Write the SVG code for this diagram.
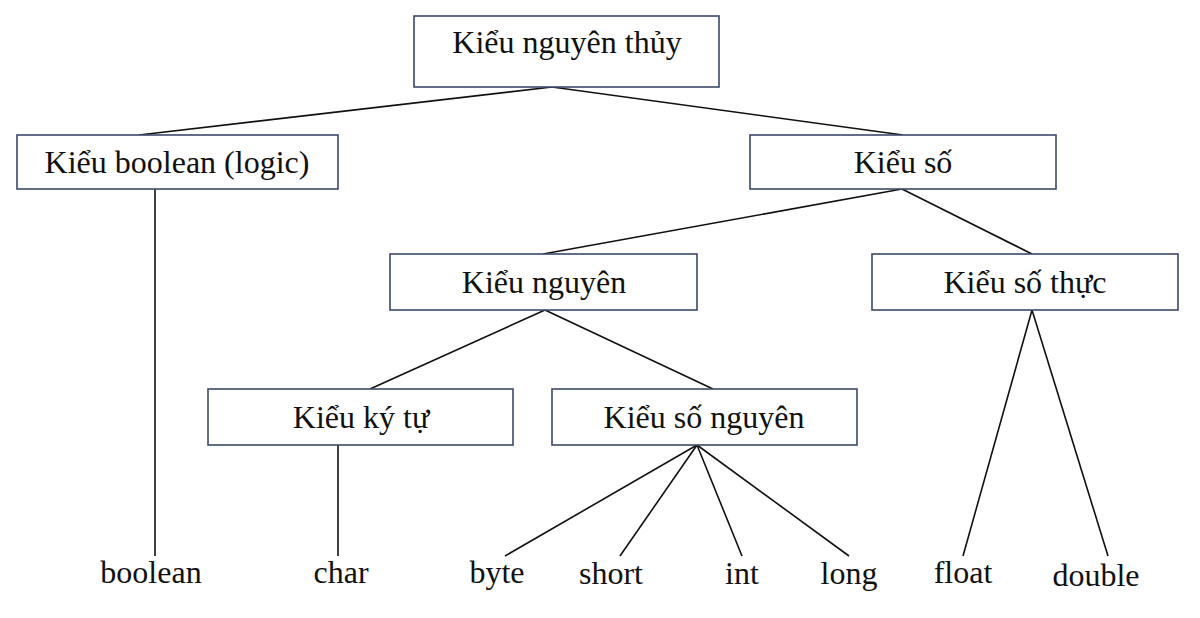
<svg xmlns="http://www.w3.org/2000/svg" width="1200" height="618" viewBox="0 0 1200 618">
<style>
.box{fill:#fff;stroke:#3b4a6b;stroke-width:1.6}
.t{font-family:"Liberation Serif","Times New Roman",serif;font-size:32px;fill:#111;text-anchor:middle}
.c line{stroke:#111;stroke-width:1.6;fill:none}
</style>
<rect width="1200" height="618" fill="#fff"/>
<g class="c" id="connectors">
<line x1="552" y1="87" x2="139" y2="135"/>
<line x1="552" y1="87" x2="903" y2="135"/>
<line x1="155" y1="189" x2="155" y2="556" stroke="#555"/>
<line x1="902" y1="189" x2="543" y2="254"/>
<line x1="902" y1="189" x2="1032" y2="254"/>
<line x1="545" y1="310" x2="370" y2="389"/>
<line x1="545" y1="310" x2="713" y2="389"/>
<line x1="338" y1="445" x2="338" y2="556"/>
<line x1="697" y1="445" x2="505" y2="556"/>
<line x1="697" y1="445" x2="620" y2="556"/>
<line x1="697" y1="445" x2="742" y2="556"/>
<line x1="697" y1="445" x2="849" y2="556"/>
<line x1="1032" y1="310" x2="963" y2="556"/>
<line x1="1032" y1="310" x2="1108" y2="556"/>
</g>
<g id="n-root"><rect class="box" x="414" y="16" width="305" height="71"/><text class="t" x="567" y="53">Kiểu nguyên thủy</text></g>
<g id="n-boolean"><rect class="box" x="17" y="135" width="321" height="54"/><text class="t" x="177" y="173">Kiểu boolean (logic)</text></g>
<g id="n-so"><rect class="box" x="750" y="135" width="306" height="54"/><text class="t" x="903" y="173">Kiểu số</text></g>
<g id="n-nguyen"><rect class="box" x="390" y="254" width="307" height="56"/><text class="t" x="544" y="293">Kiểu nguyên</text></g>
<g id="n-sothuc"><rect class="box" x="872" y="254" width="306" height="56"/><text class="t" x="1025" y="293">Kiểu số thực</text></g>
<g id="n-kytu"><rect class="box" x="208" y="389" width="305" height="56"/><text class="t" x="361" y="428">Kiểu ký tự</text></g>
<g id="n-songuyen"><rect class="box" x="552" y="389" width="305" height="56"/><text class="t" x="704" y="428">Kiểu số nguyên</text></g>
<g id="leaf-boolean"><text class="t" x="151" y="583">boolean</text></g>
<g id="leaf-char"><text class="t" x="341" y="583">char</text></g>
<g id="leaf-byte"><text class="t" x="497" y="583">byte</text></g>
<g id="leaf-short"><text class="t" x="611" y="584">short</text></g>
<g id="leaf-int"><text class="t" x="742" y="584">int</text></g>
<g id="leaf-long"><text class="t" x="849" y="584">long</text></g>
<g id="leaf-float"><text class="t" x="963" y="583">float</text></g>
<g id="leaf-double"><text class="t" x="1096" y="586">double</text></g>
</svg>
